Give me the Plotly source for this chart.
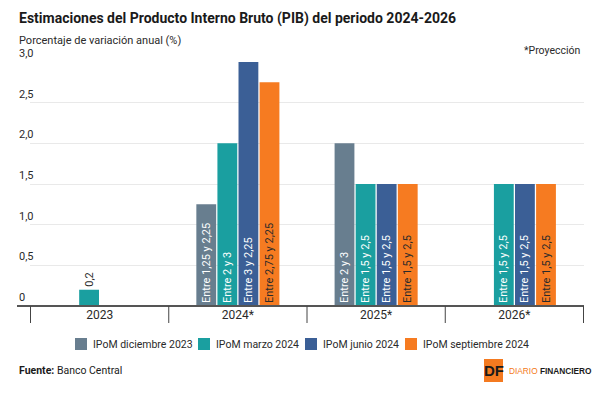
import plotly.graph_objects as go

categories = ["2023", "2024*", "2025*", "2026*"]
series_names = ["IPoM diciembre 2023", "IPoM marzo 2024", "IPoM junio 2024", "IPoM septiembre 2024"]
dic_2023 = [None, 1.25, 2.0, None]
mar_2024 = [0.2, 2.0, 1.5, 1.5]
jun_2024 = [None, 3.0, 1.5, 1.5]
sep_2024 = [None, 2.75, 1.5, 1.5]
dic_labels = ["", "Entre 1,25 y 2,25", "Entre 2 y 3", ""]
mar_labels = ["0,2", "Entre 2 y 3", "Entre 1,5 y 2,5", "Entre 1,5 y 2,5"]
jun_labels = ["", "Entre 3 y 2,25", "Entre 1,5 y 2,5", "Entre 1,5 y 2,5"]
sep_labels = ["", "Entre 2,75 y 2,25", "Entre 1,5 y 2,5", "Entre 1,5 y 2,5"]
y_ticks = [0, 0.5, 1.0, 1.5, 2.0, 2.5, 3.0]
y_tick_labels = ["0", "0,5", "1,0", "1,5", "2,0", "2,5", "3,0"]

colors = ["#687e8f", "#1a9fa0", "#3b5f96", "#f67b21"]
text_colors = ["white", "white", "white", "#2a2a2a"]
legend_x = [75, 198, 305, 405]   # layout: left edge of each legend swatch (px)
FONT = "Roboto"

W, H = 600, 394
L, R, T, B = 30, 584, 62, 306

def px(x):
    return (x - L) / (R - L)

def py(y):
    return (B - y) / (B - T)

fig = go.Figure()
all_vals = [dic_2023, mar_2024, jun_2024, sep_2024]
all_labels = [dic_labels, mar_labels, jun_labels, sep_labels]
for name, vals, labels, col, tcol in zip(series_names, all_vals, all_labels, colors, text_colors):
    positions = []
    tcolors = []
    for v, lab in zip(vals, labels):
        if v is not None and v < 0.5:
            positions.append("outside")
            tcolors.append("#2a2a2a")
        else:
            positions.append("inside")
            tcolors.append(tcol)
    fig.add_trace(go.Bar(
        name=name, x=categories, y=vals, marker_color=col,
        marker_line_width=0,
        text=labels, textposition=positions, insidetextanchor="start",
        textangle=-90, textfont=dict(family=FONT, size=11, color=tcolors),
        outsidetextfont=dict(family=FONT, size=11, color="#2a2a2a"),
        cliponaxis=False, hoverinfo="skip", showlegend=False,
    ))

fig.update_layout(
    width=W, height=H,
    margin=dict(l=L, r=W - R, t=T, b=H - B),
    paper_bgcolor="white", plot_bgcolor="white",
    barmode="group", bargap=0.39, bargroupgap=0.06,
    font=dict(family=FONT, color="#2a2a2a"),
    uniformtext=dict(minsize=11, mode="show"),
    showlegend=False,
)
fig.update_yaxes(range=[0, 3.0], tickvals=y_ticks, showticklabels=False,
                 showgrid=True, gridcolor="#e9e9e9", gridwidth=1, zeroline=False,
                 showline=False, fixedrange=True)
fig.update_xaxes(showgrid=False, ticks="", showline=False,
                 tickfont=dict(size=12, color="#2a2a2a"), ticklabelstandoff=0)

# y tick labels above gridlines, left-aligned
for v, lab in zip(y_ticks, y_tick_labels):
    fig.add_annotation(x=px(17), xref="paper", y=v, yref="y", text=lab, showarrow=False,
                       xanchor="left", yanchor="bottom", yshift=0,
                       font=dict(size=11, color="#2a2a2a"))

# baseline
fig.add_shape(type="line", xref="paper", yref="paper", x0=px(17), x1=1, y0=0, y1=0,
              line=dict(color="#555555", width=2))
# category dividers
for i in range(len(categories) + 1):
    fig.add_shape(type="line", xref="x", yref="paper", x0=i - 0.5, x1=i - 0.5,
                  y0=0, y1=py(323), line=dict(color="#444444", width=1))

# legend (manual, one row)
for name, col, lx in zip(series_names, colors, legend_x):
    fig.add_shape(type="rect", xref="paper", yref="paper", x0=px(lx), x1=px(lx + 12),
                  y0=py(350), y1=py(338), fillcolor=col, line=dict(width=0))
    fig.add_annotation(x=px(lx + 16), y=py(344), xref="paper", yref="paper", showarrow=False,
                       xanchor="left", yanchor="middle", text=name,
                       font=dict(size=10.5, color="#2a2a2a"))

# titles
fig.add_annotation(x=px(17), y=py(19), xref="paper", yref="paper", showarrow=False,
                   xanchor="left", yanchor="middle",
                   text="<b>Estimaciones del Producto Interno Bruto (PIB) del periodo 2024-2026</b>",
                   font=dict(size=14, color="#1a1a1a"))
fig.add_annotation(x=px(17), y=py(40), xref="paper", yref="paper", showarrow=False,
                   xanchor="left", yanchor="middle",
                   text="Porcentaje de variación anual (%)",
                   font=dict(size=11, color="#2a2a2a"))
fig.add_annotation(x=px(583), y=py(51), xref="paper", yref="paper", showarrow=False,
                   xanchor="right", yanchor="middle", text="*Proyección",
                   font=dict(size=10.5, color="#2a2a2a"))
# footer
fig.add_annotation(x=px(17), y=py(370), xref="paper", yref="paper", showarrow=False,
                   xanchor="left", yanchor="middle",
                   text="<b>Fuente:</b> Banco Central", font=dict(size=10.5, color="#1a1a1a"))
# logo
fig.add_shape(type="rect", xref="paper", yref="paper", x0=px(484), x1=px(503),
              y0=py(382), y1=py(359), fillcolor="#f47a20", line=dict(width=0))
fig.add_annotation(x=px(493.5), y=py(370.5), xref="paper", yref="paper", showarrow=False,
                   xanchor="center", yanchor="middle", text="<b>DF</b>",
                   font=dict(family="Liberation Sans", size=15, color="#1a1a1a"))
fig.add_annotation(x=px(507), y=py(370.5), xref="paper", yref="paper", showarrow=False,
                   xanchor="left", yanchor="middle",
                   text="<span style='color:#f47a20'>DIARIO</span> <b>FINANCIERO</b>",
                   font=dict(family="Liberation Sans", size=8.3, color="#1a1a1a"))

fig.write_html("out.html")
